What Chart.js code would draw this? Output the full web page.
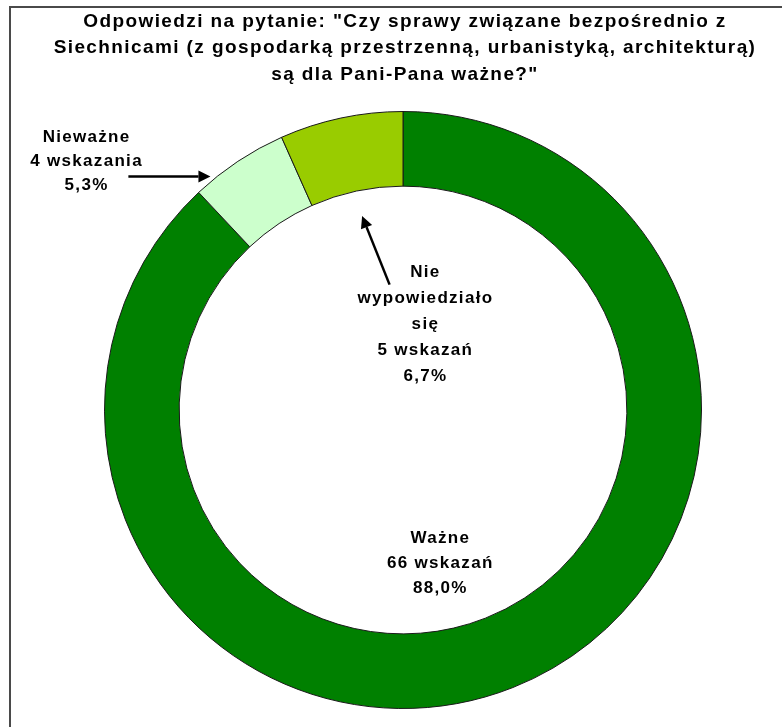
<!DOCTYPE html>
<html>
<head>
<meta charset="utf-8">
<script src="https://cdn.jsdelivr.net/npm/chart.js@4.4.1/dist/chart.umd.min.js"></script>
<style>
  html, body { margin: 0; padding: 0; background: #fff; }
  #wrap { width: 782px; height: 727px; position: relative; }
</style>
</head>
<body>
<div id="wrap"><canvas id="c" width="782" height="727"></canvas></div>
<script>
const titleLines = [
  'Odpowiedzi na pytanie: "Czy sprawy związane bezpośrednio z',
  'Siechnicami (z gospodarką przestrzenną, urbanistyką, architekturą)',
  'są dla Pani-Pana ważne?"'
];
const categories = ['Ważne', 'Nieważne', 'Nie wypowiedziało się'];
const counts = [66, 4, 5];
const countTexts = ['66 wskazań', '4 wskazania', '5 wskazań'];
const percentTexts = ['88,0%', '5,3%', '6,7%'];
const colors = ['#008000', '#CCFFCC', '#99CC00'];

// label lines per category (category name may wrap)
const labelLines = [
  ['Ważne', countTexts[0], percentTexts[0]],
  ['Nieważne', countTexts[1], percentTexts[1]],
  ['Nie', 'wypowiedziało', 'się', countTexts[2], percentTexts[2]]
];

const decorPlugin = {
  id: 'decor',
  beforeDraw(chart) {
    const ctx = chart.ctx;
    ctx.save();
    ctx.fillStyle = '#fff';
    ctx.fillRect(0, 0, chart.width, chart.height);
    ctx.strokeStyle = '#4a4a4a';
    ctx.lineWidth = 2;
    ctx.beginPath();
    ctx.moveTo(10, chart.height);
    ctx.lineTo(10, 7);
    ctx.lineTo(chart.width, 7);
    ctx.stroke();
    // title
    ctx.fillStyle = '#000';
    ctx.font = 'bold 19px "Liberation Sans", Arial, sans-serif';
    ctx.textAlign = 'center';
    ctx.textBaseline = 'middle';
    try { ctx.letterSpacing = '1.4px'; } catch (e) {}
    titleLines.forEach((t, i) => ctx.fillText(t, 405, 21.5 + i * 26.5));
    ctx.restore();
  },
  afterDraw(chart) {
    const ctx = chart.ctx;
    const arc = chart.getDatasetMeta(0).data[0];
    const cx = arc.x, cy = arc.y, R = arc.outerRadius;
    ctx.save();
    ctx.fillStyle = '#000';
    ctx.font = 'bold 17px "Liberation Sans", Arial, sans-serif';
    ctx.textAlign = 'center';
    ctx.textBaseline = 'middle';
    try { ctx.letterSpacing = '1.3px'; } catch (e) {}
    // label anchor offsets relative to centre (in px of outer radius units)
    const anchors = [
      { dx: 0.125, dy: 0.515, lh: 25 },
      { dx: -1.06, dy: -0.834, lh: 24 },
      { dx: 0.075, dy: -0.288, lh: 26 }
    ];
    labelLines.forEach((lines, k) => {
      const a = anchors[k];
      const x = cx + a.dx * R;
      const y0 = cy + a.dy * R - (lines.length - 1) * a.lh / 2;
      lines.forEach((t, i) => ctx.fillText(t, x, y0 + i * a.lh));
    });
    // arrows
    const arrow = (x1, y1, x2, y2) => {
      ctx.strokeStyle = '#000';
      ctx.fillStyle = '#000';
      ctx.lineWidth = 2.5;
      const ang = Math.atan2(y2 - y1, x2 - x1);
      const hl = 12, hw = 6;
      const bx = x2 - hl * Math.cos(ang), by = y2 - hl * Math.sin(ang);
      ctx.beginPath();
      ctx.moveTo(x1, y1);
      ctx.lineTo(bx, by);
      ctx.stroke();
      ctx.beginPath();
      ctx.moveTo(x2, y2);
      ctx.lineTo(bx + hw * Math.sin(ang), by - hw * Math.cos(ang));
      ctx.lineTo(bx - hw * Math.sin(ang), by + hw * Math.cos(ang));
      ctx.closePath();
      ctx.fill();
    };
    arrow(cx - 0.92 * R, cy - 0.782 * R, cx - 0.645 * R, cy - 0.782 * R);
    arrow(cx - 0.045 * R, cy - 0.42 * R, cx - 0.137 * R, cy - 0.65 * R);
    ctx.restore();
  }
};

new Chart(document.getElementById('c'), {
  type: 'doughnut',
  data: {
    labels: categories,
    datasets: [{
      data: counts,
      backgroundColor: colors,
      borderColor: '#1a1a1a',
      borderWidth: 1,
      hoverOffset: 0,
      offset: 0
    }]
  },
  options: {
    responsive: false,
    animation: false,
    cutout: '75%',
    rotation: 0,
    layout: { padding: { top: 111, bottom: 18, left: 24, right: 0 } },
    plugins: {
      legend: { display: false },
      title: { display: false },
      tooltip: { enabled: false }
    },
    events: []
  },
  plugins: [decorPlugin]
});
</script>
</body>
</html>
